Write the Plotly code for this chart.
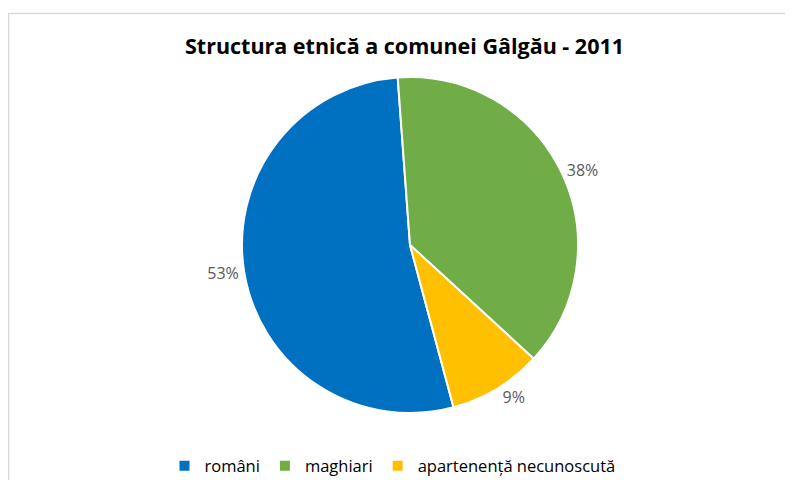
import plotly.graph_objects as go

# data
labels = ['români', 'maghiari', 'apartenență necunoscută']
values = [53, 38, 9]
colors = ['#0070C0', '#70AD47', '#FFC000']

W, H = 793, 480

fig = go.Figure()

fig.add_trace(go.Pie(
    labels=labels,
    values=values,
    sort=False,
    direction='clockwise',
    rotation=165,
    marker=dict(colors=colors, line=dict(color='white', width=2)),
    textinfo='percent',
    texttemplate='%{percent:.0%}',
    textposition='outside',
    textfont=dict(family='Open Sans', size=16, color='#595959'),
    domain=dict(x=[234 / W, 570 / W], y=[75 / H, 411 / H]),
    hoverinfo='label+value+percent',
))

fig.update_layout(
    width=W,
    height=H,
    margin=dict(l=0, r=0, t=0, b=0),
    paper_bgcolor='white',
    plot_bgcolor='white',
    title=dict(
        text='<b>Structura etnică a comunei Gâlgău - 2011</b>',
        x=0.5, xanchor='center',
        y=1 - 38 / H, yanchor='middle',
        font=dict(family='Open Sans', size=21.5, color='#000000'),
    ),
    showlegend=True,
    legend=dict(
        orientation='h',
        x=0.5 - 12 / W, xanchor='center',
        y=1 - 458 / H, yanchor='middle',
        font=dict(family='Open Sans', size=16.5, color='#000000'),
        itemwidth=30,
        traceorder='normal',
    ),
    shapes=[dict(
        type='rect', xref='paper', yref='paper',
        x0=0.5 / W, x1=1.02, y0=-0.05, y1=1 - 5.5 / H,
        line=dict(color='#D9D9D9', width=1.5),
        fillcolor='rgba(0,0,0,0)',
    )],
)

fig.write_html('out.html')
